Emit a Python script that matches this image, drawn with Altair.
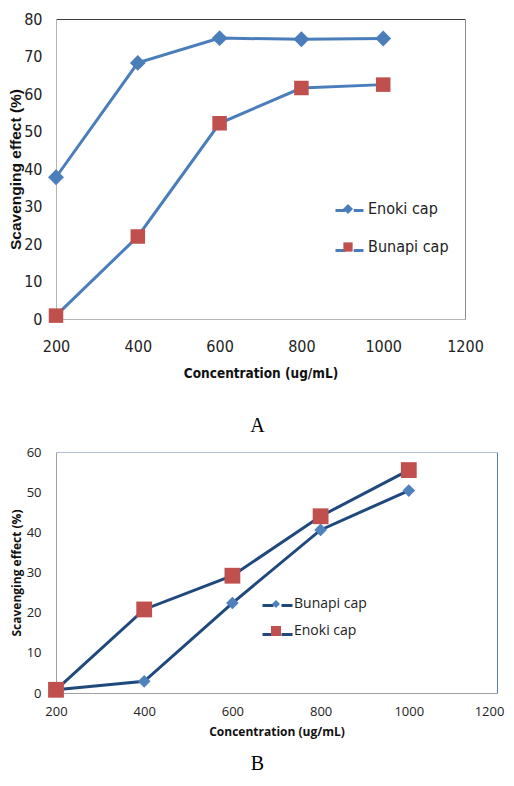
import altair as alt
import pandas as pd

# ---- data ----
conc = [200, 400, 600, 800, 1000]
x_ticks = [200, 400, 600, 800, 1000, 1200]

a_series = ["Enoki cap", "Bunapi cap"]
a_enoki = [37.8, 68.3, 74.9, 74.6, 74.8]
a_bunapi = [0.9, 22.0, 52.2, 61.6, 62.5]

b_series = ["Bunapi cap", "Enoki cap"]
b_bunapi = [0.8, 2.9, 22.4, 40.6, 50.4]
b_enoki = [0.8, 20.8, 29.2, 44.0, 55.5]

# line layer uses its own key (trailing space) so its legend is not merged
a_line_keys = [s + " " for s in a_series]
b_line_keys = [s + " " for s in b_series]

dfA = pd.DataFrame({
    "conc": conc * 2,
    "val": a_enoki + a_bunapi,
    "series": [a_series[0]] * len(conc) + [a_series[1]] * len(conc),
    "line_series": [a_line_keys[0]] * len(conc) + [a_line_keys[1]] * len(conc),
})
dfB = pd.DataFrame({
    "conc": conc * 2,
    "val": b_bunapi + b_enoki,
    "series": [b_series[0]] * len(conc) + [b_series[1]] * len(conc),
    "line_series": [b_line_keys[0]] * len(conc) + [b_line_keys[1]] * len(conc),
})

NARROW = "Liberation Sans Narrow, DejaVu Sans Condensed, Roboto, sans-serif"
WIDE = "Open Sans, DejaVu Sans, sans-serif"
SERIF = "Liberation Serif, DejaVu Serif, serif"

DIAMOND = "M0,-0.36L0.36,0L0,0.36L-0.36,0Z"
SQUARE = "M-0.33,-0.33H0.33V0.33H-0.33Z"
DIAMOND_B = "M0,-0.4L0.4,0L0,0.4L-0.4,0Z"
SQUARE_B = "M-0.5,-0.5H0.5V0.5H-0.5Z"
LINE_GAP_A = "M-1,0H-0.3M0.3,0H1"
LINE_GAP_B = "M-1.5,0H-0.4M0.4,0H1.5"

A_LINE = "#4a7ebb"
B_LINE = "#1f497d"
BLUE_PT = "#4f81bd"
RED_PT = "#c0504d"

# ---------------- Chart A ----------------
xsA = alt.Scale(domain=[200, 1200], nice=False, zero=False)
ysA = alt.Scale(domain=[0, 80], nice=False)

lineA = alt.Chart(dfA).mark_line(strokeWidth=3).encode(
    x=alt.X("conc:Q", scale=xsA, axis=alt.Axis(
        values=x_ticks, format="d", labelFlush=False, title="Concentration (ug/mL)",
        grid=False, ticks=False, domainColor="#b4b4b4", labelFont=NARROW, labelFontSize=16,
        labelColor="#222", labelPadding=19, titleFont=NARROW, titleFontSize=13.5,
        titleFontWeight="bold", titleColor="#111", titlePadding=12)),
    y=alt.Y("val:Q", scale=ysA, axis=alt.Axis(
        values=list(range(0, 81, 10)), labelFlush=False, title="Scavenging effect (%)",
        grid=False, ticks=False, domainColor="#b4b4b4", labelFont=NARROW, labelFontSize=16,
        labelColor="#222", labelPadding=14, titleFont="Liberation Sans", titleFontSize=15.5,
        titleFontWeight="bold", titleColor="#111", titlePadding=0)),
    stroke=alt.Stroke("line_series:N", scale=alt.Scale(domain=a_line_keys, range=[A_LINE, A_LINE]),
                      legend=alt.Legend(orient="none", legendX=278, legendY=176, title=None,
                                        symbolType=LINE_GAP_A, symbolSize=784,
                                        symbolStrokeWidth=3, labelExpr="''",
                                        labelFont=NARROW, labelFontSize=16, labelOffset=6,
                                        rowPadding=16, padding=0)),
)

pointA = alt.Chart(dfA).mark_point(filled=True, size=1936, opacity=1, strokeWidth=0).encode(
    x=alt.X("conc:Q", scale=xsA, axis=alt.Axis(
        orient="top", labels=False, ticks=False, grid=False, domainColor="#404040", title=None)),
    y=alt.Y("val:Q", scale=ysA, axis=alt.Axis(
        orient="right", labels=False, ticks=False, grid=False, domainColor="#8c8c8c", title=None)),
    fill=alt.Fill("series:N", scale=alt.Scale(domain=a_series, range=[A_LINE, RED_PT]),
                  legend=alt.Legend(orient="none", legendX=278, legendY=176, title=None,
                                    symbolSize=784, symbolStrokeWidth=0, labelFont=NARROW,
                                    labelFontSize=16, labelColor="#222", labelOffset=6,
                                    rowPadding=16, padding=0)),
    shape=alt.Shape("series:N", scale=alt.Scale(domain=a_series, range=[DIAMOND, SQUARE])),
)

chartA = alt.layer(lineA, pointA).resolve_axis(x="independent", y="independent").properties(
    width=409, height=300,
    title=alt.TitleParams("A", orient="bottom", font=SERIF, fontSize=20, fontWeight="normal",
                          color="#000", offset=36, dx=-3),
)

# ---------------- Chart B ----------------
xsB = alt.Scale(domain=[200, 1200], nice=False, zero=False)
ysB = alt.Scale(domain=[0, 60], nice=False)

lineB = alt.Chart(dfB).mark_line(strokeWidth=3).encode(
    x=alt.X("conc:Q", scale=xsB, axis=alt.Axis(
        values=x_ticks, format="d", labelFlush=False, title="Concentration (ug/mL)",
        grid=False, ticks=False, domainColor="#a0a0a0", labelFont=WIDE, labelFontSize=13,
        labelColor="#222", labelPadding=12, titleFont=WIDE, titleFontSize=12,
        labelOffset=alt.condition("datum.value == 1200", alt.value(-8), alt.value(0)),
        titleFontWeight="bold", titleColor="#111", titlePadding=8)),
    y=alt.Y("val:Q", scale=ysB, axis=alt.Axis(
        values=list(range(0, 61, 10)), labelFlush=False, title="Scavenging effect (%)",
        grid=False, ticks=False, domainColor="#a0a0a0", labelFont=WIDE, labelFontSize=13,
        labelColor="#222", labelPadding=15, titleFont=WIDE, titleFontSize=12,
        titleFontWeight="bold", titleColor="#111", titlePadding=3)),
    stroke=alt.Stroke("line_series:N", scale=alt.Scale(domain=b_line_keys, range=[B_LINE, B_LINE]),
                      legend=alt.Legend(orient="none", legendX=210, legendY=142, title=None,
                                        symbolType=LINE_GAP_B, symbolSize=400,
                                        symbolStrokeWidth=3, labelExpr="''",
                                        labelFont=WIDE, labelFontSize=14, labelOffset=8,
                                        rowPadding=10, padding=0)),
)

pointB = alt.Chart(dfB).mark_point(filled=True, size=1000, opacity=1, strokeWidth=0).encode(
    x=alt.X("conc:Q", scale=xsB, axis=alt.Axis(
        orient="top", labels=False, ticks=False, grid=False, domainColor="#aebfd6", title=None)),
    y=alt.Y("val:Q", scale=ysB, axis=alt.Axis(
        orient="right", labels=False, ticks=False, grid=False, domainColor="#5a80b0", title=None)),
    fill=alt.Fill("series:N", scale=alt.Scale(domain=b_series, range=[BLUE_PT, RED_PT]),
                  legend=alt.Legend(orient="none", legendX=210, legendY=142, title=None,
                                    symbolSize=400, symbolStrokeWidth=0, labelFont=WIDE,
                                    labelFontSize=14, labelColor="#222", labelOffset=8,
                                    rowPadding=10, padding=0)),
    shape=alt.Shape("series:N", scale=alt.Scale(domain=b_series, range=[DIAMOND_B, SQUARE_B])),
)

chartB = alt.layer(lineB, pointB).resolve_axis(x="independent", y="independent").properties(
    width=441, height=241,
    title=alt.TitleParams("B", orient="bottom", font=SERIF, fontSize=20, fontWeight="normal",
                          color="#000", offset=17, dx=-19),
)

chart = alt.vconcat(chartA, chartB, spacing=9).resolve_scale(
    x="independent", y="independent", stroke="independent", fill="independent",
    shape="independent",
).configure_view(stroke="transparent").properties(
    padding={"left": 0, "top": 2, "right": 0, "bottom": 0},
    background="white",
)

chart.save("out.html", embed_options={"renderer": "svg", "actions": False})
